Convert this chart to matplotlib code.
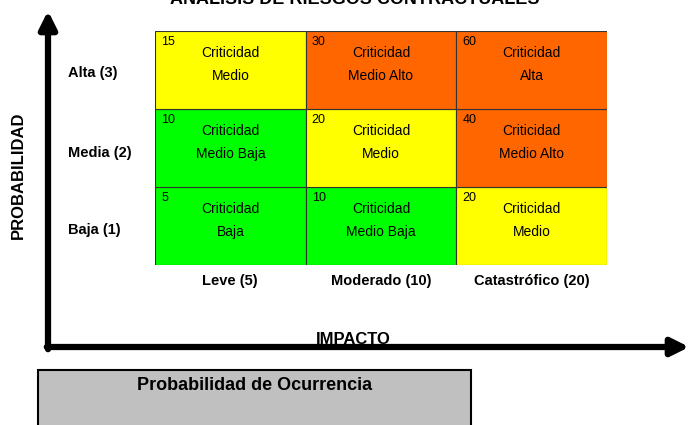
import matplotlib
matplotlib.use('Agg')
import matplotlib.pyplot as plt
from matplotlib.patches import Rectangle
from matplotlib import font_manager

# Datos de la matriz
impact_labels = ['Leve (5)', 'Moderado (10)', 'Catastrófico (20)']
prob_labels = ['Baja (1)', 'Media (2)', 'Alta (3)']
scores = [[5, 10, 20],
          [10, 20, 40],
          [15, 30, 60]]
levels = [['Baja', 'Medio Baja', 'Medio'],
          ['Medio Baja', 'Medio', 'Medio Alto'],
          ['Medio', 'Medio Alto', 'Alta']]
level_colors = {'Baja': '#00FF00', 'Medio Baja': '#00FF00', 'Medio': '#FFFF00',
                'Medio Alto': '#FF6600', 'Alta': '#FF6600'}

names = {f.name for f in font_manager.fontManager.ttflist}
narrow = 'Liberation Sans Narrow' if 'Liberation Sans Narrow' in names else 'Liberation Sans'
bold = 'Liberation Sans' if 'Liberation Sans' in names else 'DejaVu Sans'

W, H = 691, 425
fig = plt.figure(figsize=(W / 100, H / 100), dpi=100)

# capa de fondo en pixeles
bg = fig.add_axes([0, 0, 1, 1])
bg.set_xlim(0, W)
bg.set_ylim(H, 0)
bg.axis('off')

bg.text(355, -1, 'ANÁLISIS DE RIESGOS CONTRACTUALES', ha='center', va='center',
        fontsize=13, fontweight='bold', family=bold)

bg.annotate('', xy=(48, 8), xytext=(48, 352), annotation_clip=False,
            arrowprops=dict(arrowstyle='-|>', lw=4.5, color='black', mutation_scale=26))
bg.annotate('', xy=(692, 347), xytext=(44, 347), annotation_clip=False,
            arrowprops=dict(arrowstyle='-|>', lw=4.5, color='black', mutation_scale=26))

bg.text(18, 175, 'PROBABILIDAD', rotation=90, ha='center', va='center',
        fontsize=12, fontweight='bold', family=bold)
bg.text(353, 339, 'IMPACTO', ha='center', va='center',
        fontsize=12, fontweight='bold', family=bold)

row_y = [230, 153, 73]
for lab, y in zip(prob_labels, row_y):
    bg.text(68, y, lab, ha='left', va='center', fontsize=10.5, fontweight='bold', family=narrow)
col_x = [230, 381, 532]
for lab, x in zip(impact_labels, col_x):
    bg.text(x, 281, lab, ha='center', va='center', fontsize=10.5, fontweight='bold', family=narrow)

bg.add_patch(Rectangle((38, 370), 433, 60, facecolor='#C0C0C0', edgecolor='black', lw=1.5))
bg.text(255, 385, 'Probabilidad de Ocurrencia', ha='center', va='center',
        fontsize=13, fontweight='bold', family=bold)

# matriz de riesgos
ax = fig.add_axes([155 / W, (H - 265) / H, 452 / W, 234 / H])
ax.set_xlim(0, 3)
ax.set_ylim(0, 3)
ax.axis('off')
for i in range(3):
    for j in range(3):
        lvl = levels[i][j]
        ax.add_patch(Rectangle((j, i), 1, 1, facecolor=level_colors[lvl],
                               edgecolor='#333333', lw=0.8))
        ax.text(j + 0.04, i + 0.94, str(scores[i][j]), ha='left', va='top',
                fontsize=9, family=narrow)
        ax.text(j + 0.5, i + 0.57, 'Criticidad\n' + lvl, ha='center', va='center',
                fontsize=10, family=narrow, linespacing=1.75)

fig.savefig('out.png', dpi=100)
